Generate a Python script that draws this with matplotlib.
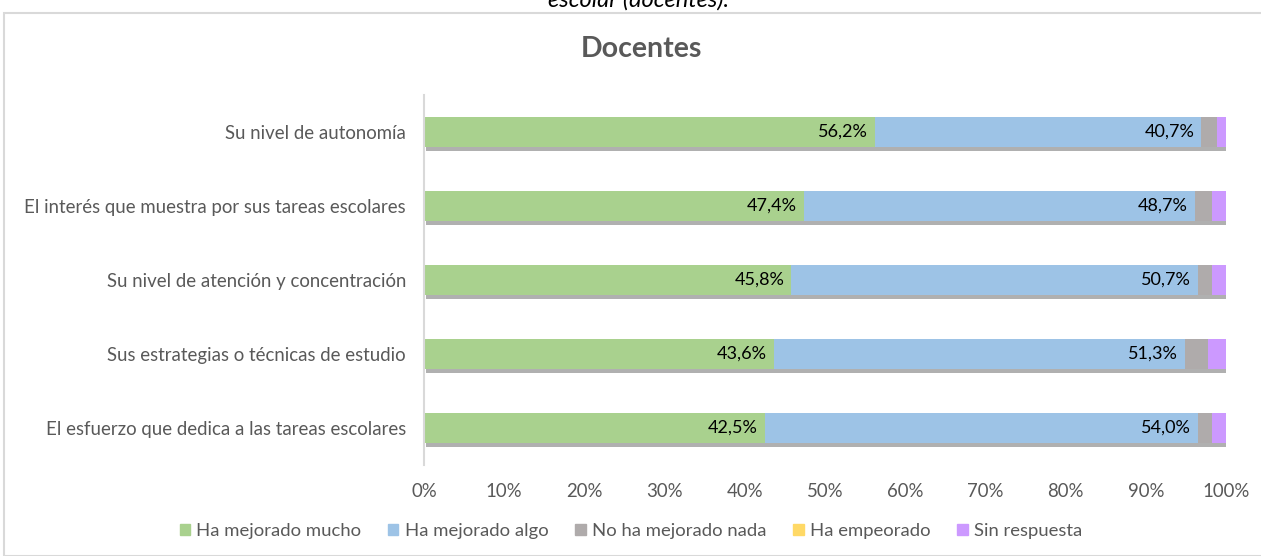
import matplotlib
matplotlib.use("Agg")
import matplotlib.pyplot as plt
import matplotlib.patheffects as pe
from matplotlib.patches import Rectangle
import numpy as np

categories = [
    "Su nivel de autonomía",
    "El interés que muestra por sus tareas escolares",
    "Su nivel de atención y concentración",
    "Sus estrategias o técnicas de estudio",
    "El esfuerzo que dedica a las tareas escolares",
]
series_names = ["Ha mejorado mucho", "Ha mejorado algo", "No ha mejorado nada",
                "Ha empeorado", "Sin respuesta"]
mucho = [56.2, 47.4, 45.8, 43.6, 42.5]
algo = [40.7, 48.7, 50.7, 51.3, 54.0]
nada = [2.0, 2.2, 1.8, 2.8, 1.8]
empeorado = [0.0, 0.0, 0.0, 0.0, 0.0]
sin_resp = [1.1, 1.7, 1.7, 2.3, 1.7]
colors = ["#A9D18E", "#9DC3E6", "#AFABAB", "#FFD966", "#CC99FF"]
xticks = [0, 10, 20, 30, 40, 50, 60, 70, 80, 90, 100]

plt.rcParams['font.family'] = ['Lato', 'DejaVu Sans']
txt = "#595959"

fig = plt.figure(figsize=(12.61, 5.56), dpi=100)
fig.patches.append(Rectangle((4/1261, 0), 1.0, 1 - 13/556, transform=fig.transFigure,
                             fill=False, edgecolor="#D9D9D9", linewidth=1.5))
fig.text(638/1261, 1 - 0/556, "escolar (docentes).", ha="center", va="center",
         fontsize=17, style="italic", color="black")
fig.text(641/1261, 1 - 49/556, "Docentes", ha="center", va="center",
         fontsize=20.5, fontweight="bold", color=txt)

ax = fig.add_axes([424/1261, 91/556, 802/1261, 370/556])
y = np.arange(len(categories))
data = [mucho, algo, nada, empeorado, sin_resp]
left = np.zeros(len(categories))
shadow = [pe.SimplePatchShadow(offset=(1.5, -3), shadow_rgbFace="#6F6F6F", alpha=0.55), pe.Normal()]
for vals, c, name in zip(data, colors, series_names):
    b = ax.barh(y, vals, left=left, height=0.41, color=c, label=name, edgecolor="none")
    for p in b.patches:
        p.set_path_effects(shadow)
    left = left + np.array(vals)

# data labels for the first two series, right-aligned inside segment ends
cum = np.zeros(len(categories))
for vals in data[:2]:
    cum = cum + np.array(vals)
    for yi, (end, v) in enumerate(zip(cum, vals)):
        ax.annotate(f"{v:.1f}%".replace(".", ","), xy=(end, yi), xytext=(-5, 0),
                    textcoords="offset points", ha="right", va="center",
                    fontsize=13, color="black")

ax.set_xlim(0, 100)
ax.set_ylim(len(categories) - 0.5, -0.5)
ax.set_yticks(y)
ax.set_yticklabels(categories, fontsize=13.4, color=txt)
ax.set_xticks(xticks)
ax.set_xticklabels([f"{t}%" for t in xticks], fontsize=13.4, color=txt)
ax.tick_params(axis="both", length=0)
ax.tick_params(axis="y", pad=13)
ax.tick_params(axis="x", pad=13)
for s in ["top", "right", "bottom"]:
    ax.spines[s].set_visible(False)
ax.spines["left"].set_color("#D9D9D9")
ax.spines["left"].set_linewidth(1.5)

handles = [Rectangle((0, 0), 1, 1, color=c) for c in colors]
fig.legend(handles, series_names, loc="center", bbox_to_anchor=(631/1261, 1 - 531/556),
           ncol=5, frameon=False, fontsize=13.3, labelcolor=txt,
           handlelength=0.55, handleheight=0.55, handletextpad=0.35, columnspacing=1.45)

fig.savefig("out.png", dpi=100)
